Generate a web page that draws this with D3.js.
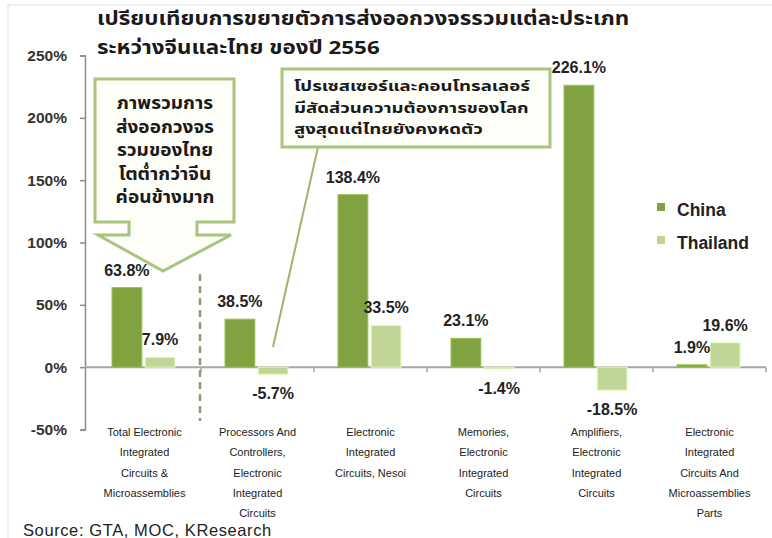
<!DOCTYPE html>
<html>
<head>
<meta charset="utf-8">
<script src="https://cdn.jsdelivr.net/npm/d3@7"></script>
<style>
  body { margin: 0; background: #fff; }
  svg { display: block; }
  .thai { font-family: "Noto Sans Thai", "Noto Sans", "DejaVu Sans", sans-serif; }
  .lat { font-family: "Liberation Sans", Arial, sans-serif; }
</style>
</head>
<body>
<svg id="chart" width="772" height="538"></svg>
<script>
const categories = [
  ["Total Electronic", "Integrated", "Circuits &", "Microassemblies"],
  ["Processors And", "Controllers,", "Electronic", "Integrated", "Circuits"],
  ["Electronic", "Integrated", "Circuits, Nesoi"],
  ["Memories,", "Electronic", "Integrated", "Circuits"],
  ["Amplifiers,", "Electronic", "Integrated", "Circuits"],
  ["Electronic", "Integrated", "Circuits And", "Microassemblies", "Parts"]
];
const seriesNames = ["China", "Thailand"];
const chinaValues = [63.8, 38.5, 138.4, 23.1, 226.1, 1.9];
const thailandValues = [7.9, -5.7, 33.5, -1.4, -18.5, 19.6];
const yTicks = [-50, 0, 50, 100, 150, 200, 250];
const titleLines = ["เปรียบเทียบการขยายตัวการส่งออกวงจรรวมแต่ละประเภท", "ระหว่างจีนและไทย ของปี 2556"];
const callout1Lines = ["ภาพรวมการ", "ส่งออกวงจร", "รวมของไทย", "โตต่ำกว่าจีน", "ค่อนข้างมาก"];
const callout2Lines = ["โปรเซสเซอร์และคอนโทรลเลอร์", "มีสัดส่วนความต้องการของโลก", "สูงสุดแต่ไทยยังคงหดตัว"];
const sourceText = "Source: GTA, MOC, KResearch";

const colors = { China: "#80A240", Thailand: "#C0D598" };

const svg = d3.select("#chart");
const catIdx = d3.range(categories.length);

function stretch(sel, factor) {
  sel.each(function() {
    const w = this.getComputedTextLength();
    d3.select(this).attr("textLength", w * factor).attr("lengthAdjust", "spacingAndGlyphs");
  });
}

// light frame
svg.append("rect").attr("x", 8).attr("y", 5).attr("width", 770).attr("height", 540)
  .attr("fill", "none").attr("stroke", "#e0e0e0").attr("stroke-width", 1);

const y = d3.scaleLinear().domain([-50, 250]).range([429.5, 55.5]);
const x0 = d3.scaleBand().domain(catIdx).range([88, 766]).padding(0);
const x1 = d3.scaleBand().domain(seriesNames).range([24, 87]).paddingInner(0.1);

// Title
const title = svg.append("g").selectAll("text").data(titleLines).join("text")
  .attr("class", "thai").attr("x", 97).attr("y", (d, i) => 25 + i * 29)
  .attr("font-size", 18.5).attr("font-weight", "bold").attr("fill", "#1a1a1a")
  .text(d => d);
stretch(title, 1.21);

// Y axis
const yAxis = d3.axisLeft(y).tickValues(yTicks).tickFormat(d => d + "%").tickSize(5).tickPadding(13);
const gy = svg.append("g").attr("transform", "translate(85,0)").call(yAxis);
gy.select(".domain").attr("stroke", "#8c8c8c").attr("stroke-width", 1.5);
gy.selectAll(".tick line").attr("stroke", "#8c8c8c").attr("stroke-width", 1.5);
gy.selectAll(".tick text").attr("class", "lat").attr("font-size", 15.5).attr("font-weight", "bold").attr("fill", "#333");

// Zero line
svg.append("line").attr("x1", 85).attr("x2", 766).attr("y1", y(0)).attr("y2", y(0))
  .attr("stroke", "#a6a6a6").attr("stroke-width", 2);
// category ticks
svg.append("g").selectAll("line").data(catIdx.slice(1).concat([categories.length])).join("line")
  .attr("x1", i => i < categories.length ? x0(i) : x0.range()[1])
  .attr("x2", i => i < categories.length ? x0(i) : x0.range()[1])
  .attr("y1", y(0)).attr("y2", y(0) + 5)
  .attr("stroke", "#a6a6a6").attr("stroke-width", 1.5);

// Dashed separator
svg.append("line").attr("x1", 200).attr("x2", 200).attr("y1", 274).attr("y2", 421)
  .attr("stroke", "#8f9a80").attr("stroke-width", 2.5).attr("stroke-dasharray", "7,5");

// Bars
const rows = catIdx.map(i => ({ i, vals: [
  { s: "China", v: chinaValues[i] }, { s: "Thailand", v: thailandValues[i] }] }));
const groups = svg.append("g").selectAll("g").data(rows).join("g")
  .attr("transform", d => `translate(${x0(d.i)},0)`);
groups.selectAll("rect").data(d => d.vals).join("rect")
  .attr("x", d => x1(d.s)).attr("width", x1.bandwidth())
  .attr("y", d => y(Math.max(0, d.v))).attr("height", d => Math.abs(y(d.v) - y(0)))
  .attr("fill", d => colors[d.s]).attr("stroke", d => d3.color(colors[d.s]).brighter(0.5)).attr("stroke-width", 1);
groups.selectAll("text").data(d => d.vals).join("text")
  .attr("class", "lat")
  .attr("x", d => x1(d.s) + x1.bandwidth() / 2)
  .attr("y", d => d.v >= 0 ? y(d.v) - 12 : y(d.v) + 25)
  .attr("text-anchor", "middle").attr("font-size", 16).attr("font-weight", "bold").attr("fill", "#222")
  .text(d => d.v.toFixed(1) + "%");

// Category labels
const catG = svg.append("g").selectAll("text").data(catIdx).join("text")
  .attr("class", "lat").attr("text-anchor", "middle").attr("font-size", 11).attr("fill", "#222");
catG.each(function(i) {
  const t = d3.select(this);
  categories[i].forEach((ln, k) => {
    t.append("tspan").attr("x", x0(i) + x0.bandwidth() / 2).attr("y", 436 + k * 20.3).text(ln);
  });
});

// Legend
const leg = svg.append("g").selectAll("g").data(seriesNames).join("g")
  .attr("transform", (d, i) => `translate(657,${203 + i * 33})`);
leg.append("rect").attr("width", 8).attr("height", 8).attr("fill", d => colors[d]);
leg.append("text").attr("class", "lat").attr("x", 20).attr("y", 13)
  .attr("font-size", 17.5).attr("font-weight", "bold").attr("fill", "#222").text(d => d);

// Callout 1 (down arrow)
const c1 = [[95,79],[234,79],[234,222],[197,222],[197,235],[231,235],[163,271],[98,235],[129,235],[129,222],[95,222]];
svg.append("path").attr("d", d3.line()(c1) + "Z")
  .attr("fill", "#fdfef7").attr("stroke", "#a9c47f").attr("stroke-width", 3).attr("stroke-linejoin", "miter");
const c1t = svg.append("g").selectAll("text").data(callout1Lines).join("text")
  .attr("class", "thai").attr("x", 165).attr("y", (d, i) => 109 + i * 23.5)
  .attr("text-anchor", "middle").attr("font-size", 17).attr("font-weight", "bold").attr("fill", "#1a1a1a")
  .text(d => d);
stretch(c1t, 1.12);

// Callout 2 (line callout)
svg.append("line").attr("x1", 318).attr("y1", 147).attr("x2", 273).attr("y2", 347)
  .attr("stroke", "#9bb56a").attr("stroke-width", 2);
svg.append("rect").attr("x", 282).attr("y", 69).attr("width", 268).attr("height", 78)
  .attr("fill", "#fdfef7").attr("stroke", "#a9c47f").attr("stroke-width", 3);
const c2t = svg.append("g").selectAll("text").data(callout2Lines).join("text")
  .attr("class", "thai").attr("x", 294).attr("y", (d, i) => 91 + i * 21.5)
  .attr("font-size", 14).attr("font-weight", "bold").attr("fill", "#1a1a1a")
  .text(d => d);
stretch(c2t, 1.33);

// Source
svg.append("text").attr("class", "lat").attr("x", 23).attr("y", 536)
  .attr("font-size", 16.5).attr("fill", "#222").attr("letter-spacing", 0.6).text(sourceText);
</script>
</body>
</html>
